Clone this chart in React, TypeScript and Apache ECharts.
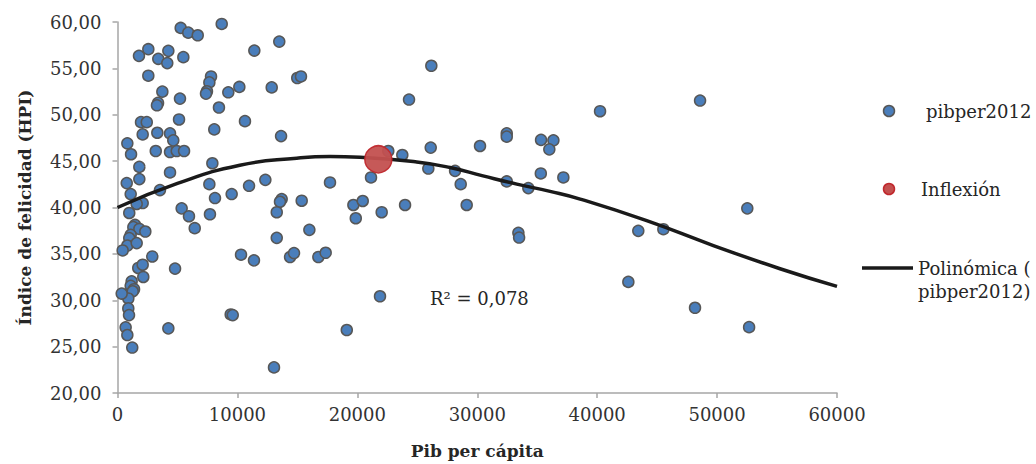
import React, { useEffect, useRef } from "react";
import * as echarts from "echarts";

const FONT = '"DejaVu Serif", serif';

// Pib per cápita (x) and Índice de felicidad (y) of each country
const pibX = [
  5270, 5900, 6690, 8690, 2570, 1790, 3400, 4240, 4150, 5490,
  2570, 7800, 7660, 7460, 7380, 9240, 10160, 3740, 3380, 3290,
  5210, 8460, 1960, 2440, 5130, 8070, 3320, 4380, 4650, 2100,
  820, 1130, 3190, 4380, 4940, 5550, 1820, 1820, 770, 4380,
  7910, 1100, 3540, 7660, 8130, 9520, 2100, 1600, 5350, 5960,
  7710, 6440, 980, 1460, 1320, 1820, 2320, 1100, 980, 820,
  1600, 430, 2900, 10300, 4800, 1730, 2100, 2150, 1180, 1100,
  1380, 1270, 900, 350, 900, 960, 9440, 9610, 680, 820,
  4240, 1230, 13490, 11410, 12860, 14990, 15300, 10630, 13640, 10970,
  12330, 17720, 13690, 13550, 15360, 13280, 16000, 13280, 11380, 14390,
  14720, 16750, 17360, 19120, 13050, 24310, 26170, 22580, 23750, 26120,
  30230, 32460, 32460, 35320, 36350, 36010, 21140, 25920, 28150, 28620,
  32460, 34260, 35300, 37180, 19670, 20450, 19870, 22030, 23980, 29120,
  33430, 33490, 21890, 40240, 48580, 52520, 43430, 45520, 42600, 48160,
  52670,
];
const hpiY = [
  59.36, 58.85, 58.57, 59.79, 57.07, 56.35, 56.03, 56.89, 55.57, 56.21,
  54.21, 54.13, 53.49, 52.53, 52.28, 52.42, 53.0, 52.49, 51.28, 51.02,
  51.74, 50.78, 49.2, 49.2, 49.49, 48.42, 48.06, 47.99, 47.24, 47.88,
  46.92, 45.74, 46.09, 45.98, 46.09, 46.09, 44.38, 43.06, 42.63, 43.78,
  44.77, 41.45, 41.88, 42.52, 41.02, 41.45, 40.48, 40.38, 39.91, 39.06,
  39.27, 37.77, 39.41, 38.12, 37.88, 37.69, 37.41, 37.05, 36.7, 35.9,
  36.16, 35.37, 34.72, 34.91, 33.41, 33.48, 33.83, 32.51, 32.04, 31.55,
  31.19, 30.97, 30.19, 30.72, 29.12, 28.4, 28.47, 28.4, 27.08, 26.25,
  26.97, 24.9, 57.89, 56.92, 52.95, 53.96, 54.13, 49.31, 47.7, 42.34,
  42.98, 42.7, 40.91, 40.62, 40.73, 39.49, 37.59, 36.73, 34.3, 34.66,
  35.09, 34.66, 35.12, 26.79, 22.76, 51.64, 55.28, 46.09, 45.66, 46.46,
  46.63, 47.99, 47.64, 47.29, 47.24, 46.27, 43.24, 44.2, 43.95, 42.52,
  42.81, 42.09, 43.67, 43.24, 40.27, 40.7, 38.84, 39.49, 40.27, 40.27,
  37.27, 36.76, 30.43, 50.38, 51.53, 39.91, 37.48, 37.66, 31.98, 29.19,
  27.1,
];

// Polynomial trend line
const trendX = [0, 5000, 10200, 14950, 17730, 20220, 24950, 27730, 30480, 33300, 36070, 38580, 44130, 49690, 55250, 60000];
const trendY = [40.0, 42.6, 44.56, 45.31, 45.5, 45.42, 44.91, 44.31, 43.41, 42.52, 41.74, 40.91, 38.58, 35.9, 33.4, 31.5];

// Inflection point
const inflexionX = [21750];
const inflexionY = [45.2];

const xTicks = { min: 0, max: 60000, interval: 10000 };
const yTicks = { min: 20, max: 60, interval: 5 };

export default function App() {
  const ref = useRef<HTMLDivElement>(null);

  useEffect(() => {
    document.body.style.margin = "0";
    const chart = echarts.init(ref.current as HTMLDivElement, null, { renderer: "svg" });
    const labelStyle = { fontFamily: FONT, fontSize: 18, color: "#333333" };
    const axisLine = { show: true, lineStyle: { color: "#a6a6a6", width: 1.5 } };
    chart.setOption({
      animation: false,
      backgroundColor: "#ffffff",
      grid: { left: 117.5, right: 199, top: 22, bottom: 70, containLabel: false },
      xAxis: {
        type: "value",
        min: xTicks.min,
        max: xTicks.max,
        interval: xTicks.interval,
        name: "Pib per cápita",
        nameLocation: "middle",
        nameGap: 49,
        nameTextStyle: { fontFamily: FONT, fontSize: 17, fontWeight: "bold", color: "#262626" },
        axisLine,
        axisTick: { show: true, length: 5, lineStyle: { color: "#a6a6a6", width: 1.5 } },
        axisLabel: { ...labelStyle, margin: 12, formatter: (v: number) => String(v) },
        splitLine: { show: false },
      },
      yAxis: {
        type: "value",
        min: yTicks.min,
        max: yTicks.max,
        interval: yTicks.interval,
        name: "Índice de felicidad (HPI)",
        nameLocation: "middle",
        nameRotate: 90,
        nameGap: 84,
        nameTextStyle: { fontFamily: FONT, fontSize: 17, fontWeight: "bold", color: "#262626" },
        axisLine,
        axisTick: { show: true, length: 5, lineStyle: { color: "#a6a6a6", width: 1.5 } },
        axisLabel: {
          ...labelStyle,
          margin: 16,
          formatter: (v: number) => v.toFixed(2).replace(".", ","),
        },
        splitLine: { show: false },
      },
      series: [
        {
          name: "pibper2012",
          type: "scatter",
          data: pibX.map((x, i) => [x, hpiY[i]]),
          symbol: "circle",
          symbolSize: 11,
          itemStyle: { color: "#4a7ebb", borderColor: "#575757", borderWidth: 1.5, opacity: 1 },
          z: 2,
        },
        {
          name: "Polinómica (pibper2012)",
          type: "line",
          data: trendX.map((x, i) => [x, trendY[i]]),
          smooth: true,
          showSymbol: false,
          symbol: "none",
          lineStyle: { color: "#1a1a1a", width: 3.5 },
          z: 3,
        },
        {
          name: "Inflexión",
          type: "scatter",
          data: inflexionX.map((x, i) => [x, inflexionY[i]]),
          symbol: "circle",
          symbolSize: 27,
          itemStyle: { color: "#c3504f", borderColor: "#c0282d", borderWidth: 1.5, opacity: 0.95 },
          z: 4,
        },
      ],
      graphic: [
        {
          type: "circle",
          shape: { cx: 889, cy: 111, r: 5.5 },
          style: { fill: "#4a7ebb", stroke: "#575757", lineWidth: 1.5 },
        },
        {
          type: "text",
          x: 926,
          y: 111,
          style: { text: "pibper2012", fontFamily: FONT, fontSize: 18, fill: "#262626", verticalAlign: "middle", align: "left" },
        },
        {
          type: "circle",
          shape: { cx: 889, cy: 189, r: 5.5 },
          style: { fill: "#c3504f", stroke: "#c0282d", lineWidth: 1.5 },
        },
        {
          type: "text",
          x: 921,
          y: 189,
          style: { text: "Inflexión", fontFamily: FONT, fontSize: 18, fill: "#262626", verticalAlign: "middle", align: "left" },
        },
        {
          type: "line",
          shape: { x1: 862, y1: 268, x2: 913, y2: 268 },
          style: { stroke: "#1a1a1a", lineWidth: 3.5 },
        },
        {
          type: "text",
          x: 918,
          y: 268,
          style: { text: "Polinómica (", fontFamily: FONT, fontSize: 18, fill: "#262626", verticalAlign: "middle", align: "left" },
        },
        {
          type: "text",
          x: 918,
          y: 291,
          style: { text: "pibper2012)", fontFamily: FONT, fontSize: 18, fill: "#262626", verticalAlign: "middle", align: "left" },
        },
        {
          type: "text",
          x: 430,
          y: 298,
          style: { text: "R² = 0,078", fontFamily: FONT, fontSize: 18, fill: "#262626", verticalAlign: "middle", align: "left" },
        },
      ],
    });
    return () => chart.dispose();
  }, []);

  return <div ref={ref} style={{ width: 1036, height: 464 }} />;
}
